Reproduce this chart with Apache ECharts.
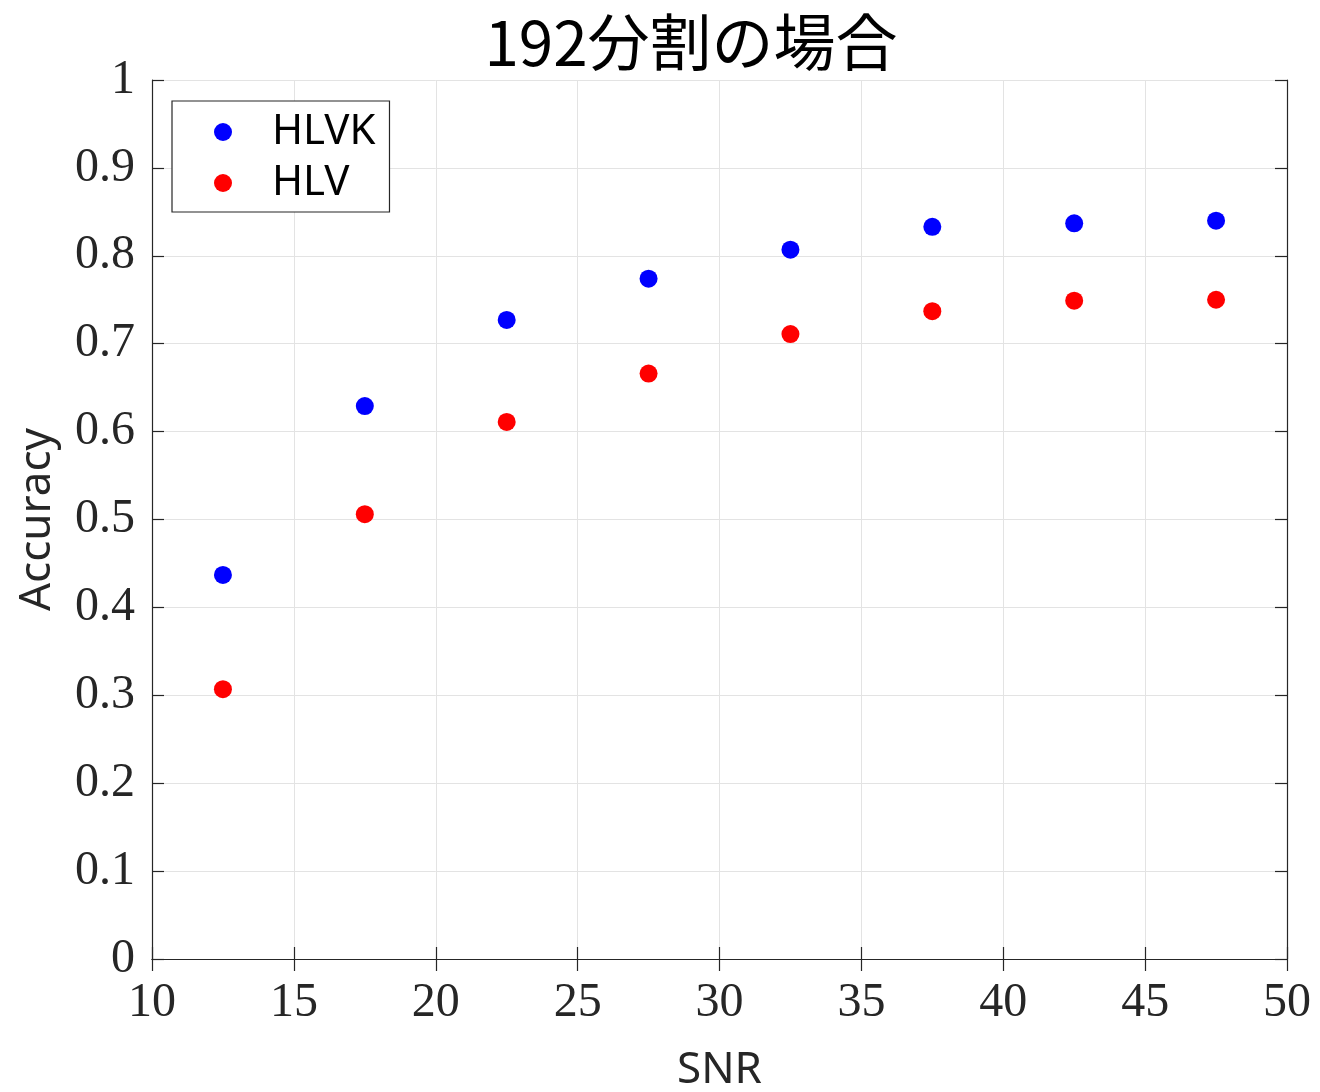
<!DOCTYPE html>
<html>
<head>
<meta charset="utf-8">
<script src="https://cdn.jsdelivr.net/npm/echarts@6/dist/echarts.min.js"></script>
<style>
html,body{margin:0;padding:0;background:#fff;}
#chart{width:1320px;height:1092px;}
</style>
</head>
<body>
<div id="chart"></div>
<script>
const titleText = '192分割の場合';
const snr = [12.5, 17.5, 22.5, 27.5, 32.5, 37.5, 42.5, 47.5];
const hlvk = [0.437, 0.629, 0.727, 0.774, 0.807, 0.833, 0.837, 0.840];
const hlv = [0.307, 0.506, 0.611, 0.666, 0.711, 0.737, 0.749, 0.750];
const seriesNames = ['HLVK', 'HLV'];
const xName = 'SNR';
const yName = 'Accuracy';

const chart = echarts.init(document.getElementById('chart'));
const axisColor = '#262626';
const tickFont = {fontFamily: 'Liberation Serif', fontSize: 48, color: axisColor};
const mirror = (pos, isX) => ({
  type: 'value', position: pos, min: isX ? 10 : 0, max: isX ? 50 : 1, interval: isX ? 5 : 0.1,
  axisLine: {show: true, lineStyle: {color: axisColor, width: 1.2}},
  axisTick: {show: true, inside: true, length: 12, lineStyle: {color: axisColor, width: 1.2}},
  axisLabel: {show: false}, splitLine: {show: false}
});
chart.setOption({
  animation: false,
  backgroundColor: '#ffffff',
  title: {
    text: titleText, left: 686, top: 37, textAlign: 'center', textVerticalAlign: 'middle',
    textStyle: {fontFamily: 'Noto Sans CJK JP', fontSize: 62, fontWeight: 'normal', color: '#000'}
  },
  grid: {left: 152, right: 33, top: 80, bottom: 133, containLabel: false, outerBoundsMode: 'none'},
  legend: {
    orient: 'vertical', left: 172, top: 101,
    data: seriesNames, icon: 'circle', itemWidth: 18, itemHeight: 18, itemGap: 9,
    padding: [10, 14, 8, 42],
    borderColor: '#262626', borderWidth: 1.2, backgroundColor: '#fff',
    itemStyle: {opacity: 1},
    textStyle: {fontFamily: 'Noto Sans', fontSize: 42, lineHeight: 40, color: '#000', padding: [0, 0, 0, 35]}
  },
  xAxis: [{
    type: 'value', min: 10, max: 50, interval: 5, position: 'bottom',
    name: xName, nameLocation: 'middle', nameGap: 111,
    nameTextStyle: {fontFamily: 'Noto Sans', fontSize: 44, color: axisColor, verticalAlign: 'middle'},
    axisLine: {show: true, lineStyle: {color: axisColor, width: 1.2}},
    axisTick: {show: true, inside: true, length: 12, lineStyle: {color: axisColor, width: 1.2}},
    axisLabel: Object.assign({margin: 20}, tickFont),
    splitLine: {show: true, lineStyle: {color: '#e3e3e3', width: 1}}
  }, mirror('top', true)],
  yAxis: [{
    type: 'value', min: 0, max: 1, interval: 0.1, position: 'left',
    name: yName, nameLocation: 'middle', nameGap: 115, nameRotate: 90,
    nameTextStyle: {fontFamily: 'Noto Sans', fontSize: 44, color: axisColor, verticalAlign: 'middle'},
    axisLine: {show: true, lineStyle: {color: axisColor, width: 1.2}},
    axisTick: {show: true, inside: true, length: 12, lineStyle: {color: axisColor, width: 1.2}},
    axisLabel: Object.assign({margin: 17}, tickFont),
    splitLine: {show: true, lineStyle: {color: '#e3e3e3', width: 1}}
  }, mirror('right', false)],
  series: [
    {name: seriesNames[0], type: 'scatter', symbol: 'circle', symbolSize: 18,
     itemStyle: {color: '#0000ff', opacity: 1}, data: snr.map((x, i) => [x, hlvk[i]])},
    {name: seriesNames[1], type: 'scatter', symbol: 'circle', symbolSize: 18,
     itemStyle: {color: '#ff0000', opacity: 1}, data: snr.map((x, i) => [x, hlv[i]])}
  ]
});
</script>
</body>
</html>
